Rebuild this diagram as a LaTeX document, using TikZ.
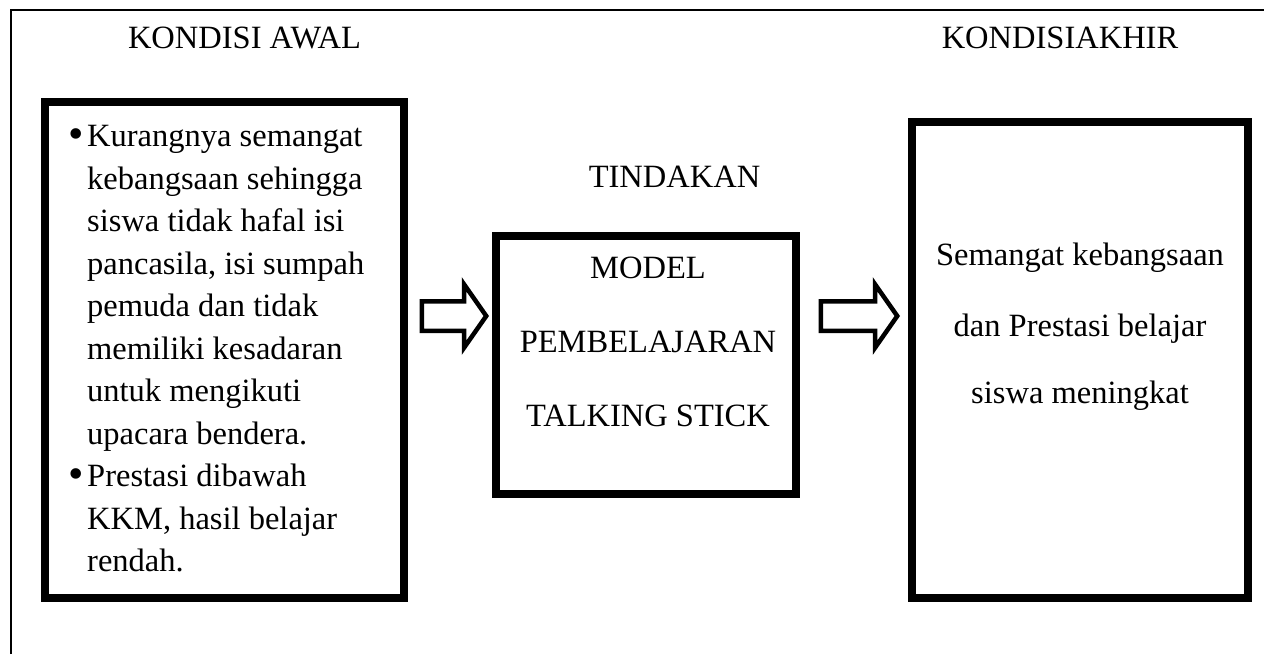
\documentclass[tikz,border=0pt]{standalone}
\usepackage{fontspec}
\setmainfont{Liberation Serif}
\usetikzlibrary{shapes.arrows}
\newcommand{\bigbul}{\llap{{\fontsize{44}{44}\selectfont\raisebox{-1.5pt}{•}}\hspace{3pt}}}
\begin{document}
\begin{tikzpicture}[x=1pt,y=-1pt,
  txt/.style={font=\fontsize{32.5}{38}\selectfont, inner sep=0pt, anchor=base},
  ltxt/.style={txt, anchor=base west},
  thickbox/.style={draw=black, line width=8pt, inner sep=0pt},
  blockarrow/.style={single arrow, draw=black, line width=4.5pt, fill=white,
    single arrow tip angle=110, inner xsep=0pt, inner ysep=12.5pt,
    single arrow head extend=17pt, minimum width=59pt, anchor=tail}
]
\useasboundingbox (0,0) rectangle (1264,654);
\draw[line width=2pt] (10.5,654) -- (10.5,9.7) -- (1264,9.7);

% boxes
\node[thickbox, minimum width=358.5pt, minimum height=496pt] (awal) at (224.25,350) {};
\node[thickbox, minimum width=300pt, minimum height=258pt] (tindakan) at (646,365) {};
\node[thickbox, minimum width=336pt, minimum height=476pt] (akhir) at (1080,360) {};

% block arrows
\node[blockarrow, minimum height=64.5pt] (a1) at (419.5,316) {};
\node[blockarrow, minimum height=76.5pt] (a2) at (818.5,316) {};

% headings
\node[txt] (h1) at (244.5,48) {KONDISI AWAL};
\node[txt] (h2) at (674.5,187) {TINDAKAN};
\node[txt] (h3) at (1060,48) {KONDISIAKHIR};

% left box text
\node[ltxt] (l1) at (87,146.7) {\bigbul Kurangnya semangat};
\node[ltxt] (l2) at (87,189.2) {kebangsaan sehingga};
\node[ltxt] (l3) at (87,231.7) {siswa tidak hafal isi};
\node[ltxt] (l4) at (87,274.2) {pancasila, isi sumpah};
\node[ltxt] (l5) at (87,316.7) {pemuda dan tidak};
\node[ltxt] (l6) at (87,359.2) {memiliki kesadaran};
\node[ltxt] (l7) at (87,401.7) {untuk mengikuti};
\node[ltxt] (l8) at (87,444.2) {upacara bendera.};
\node[ltxt] (l9) at (87,486.7) {\bigbul Prestasi dibawah};
\node[ltxt] (l10) at (87,529.2) {KKM, hasil belajar};
\node[ltxt] (l11) at (87,571.7) {rendah.};

% middle box text
\node[txt] (m1) at (648,278) {MODEL};
\node[txt] (m2) at (648,352) {PEMBELAJARAN};
\node[txt] (m3) at (648,426) {TALKING STICK};

% right box text
\node[txt] (r1) at (1080,265) {Semangat kebangsaan};
\node[txt] (r2) at (1080,336) {dan Prestasi belajar};
\node[txt] (r3) at (1080,403) {siswa meningkat};
\end{tikzpicture}
\end{document}
